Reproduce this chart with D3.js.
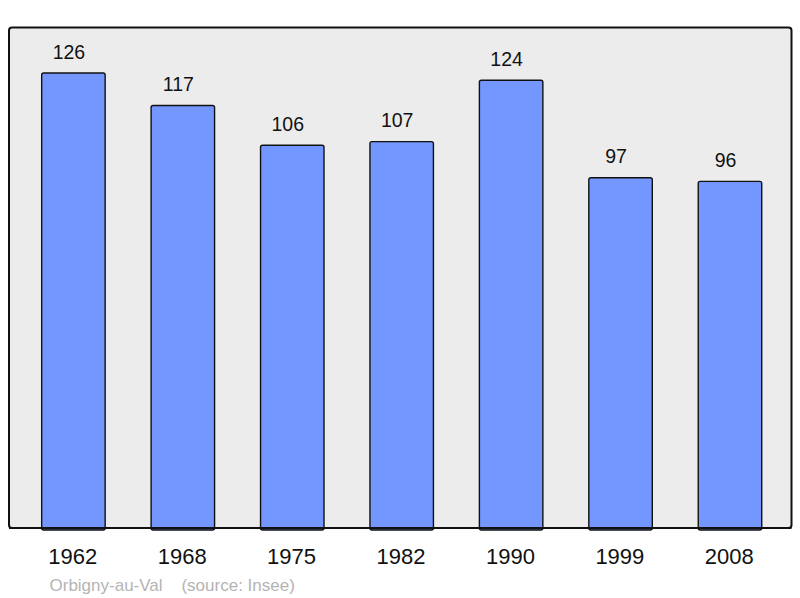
<!DOCTYPE html>
<html>
<head>
<meta charset="utf-8">
<script src="https://cdn.jsdelivr.net/npm/d3@7"></script>
<style>
html,body{margin:0;padding:0;background:#fff;}
svg{display:block;}
</style>
</head>
<body>
<svg id="chart" width="800" height="598"></svg>
<script>
const years = ["1962","1968","1975","1982","1990","1999","2008"];
const population = [126,117,106,107,124,97,96];
const caption = "Orbigny-au-Val\u00a0\u00a0\u00a0\u00a0(source: Insee)";

const svg = d3.select("#chart");
const font = "'Liberation Sans', Arial, sans-serif";

const plot = {left: 9, top: 27.5, right: 791.5, bottom: 528};

svg.append("rect")
  .attr("x", plot.left).attr("y", plot.top)
  .attr("width", plot.right - plot.left).attr("height", plot.bottom - plot.top)
  .attr("rx", 3).attr("ry", 3)
  .attr("fill", "#ececec").attr("stroke", "#111").attr("stroke-width", 2);

const x = d3.scaleBand().domain(years).range([18.7, 784.7]).paddingInner(0.42).paddingOuter(0.21);
const y = d3.scaleLinear().domain([0, d3.max(population) * 1.1]).range([plot.bottom, plot.top]);

const data = years.map((yr, i) => ({yr, v: population[i]}));

svg.append("g").selectAll("rect").data(data).join("rect")
  .attr("x", d => x(d.yr)).attr("y", d => y(d.v))
  .attr("width", x.bandwidth()).attr("height", d => plot.bottom - y(d.v) + 2)
  .attr("rx", 2).attr("ry", 2)
  .attr("fill", "#7396ff").attr("stroke", "#111").attr("stroke-width", 1.4);

// redraw bottom frame line over bars
svg.append("line")
  .attr("x1", plot.left).attr("x2", plot.right)
  .attr("y1", plot.bottom).attr("y2", plot.bottom)
  .attr("stroke", "#111").attr("stroke-width", 2);

svg.append("g").selectAll("text").data(data).join("text")
  .attr("x", d => x(d.yr) + x.bandwidth() / 2 - 4.5)
  .attr("y", d => y(d.v) - 14.5)
  .attr("text-anchor", "middle")
  .attr("font-family", font).attr("font-size", 19.5).attr("fill", "#111")
  .text(d => d.v);

const xAxis = d3.axisBottom(x).tickSize(0).tickPadding(0);
const gx = svg.append("g").attr("transform", `translate(0,${plot.bottom})`).call(xAxis);
gx.select(".domain").remove();
gx.selectAll("text")
  .attr("x", -0.7)
  .attr("y", 36).attr("dy", null)
  .attr("font-family", font).attr("font-size", 22).attr("fill", "#111");

svg.append("text")
  .attr("x", 49.5).attr("y", 591)
  .attr("font-family", font).attr("font-size", 17).attr("fill", "#b4b4b4")
  .text(caption);
</script>
</body>
</html>
